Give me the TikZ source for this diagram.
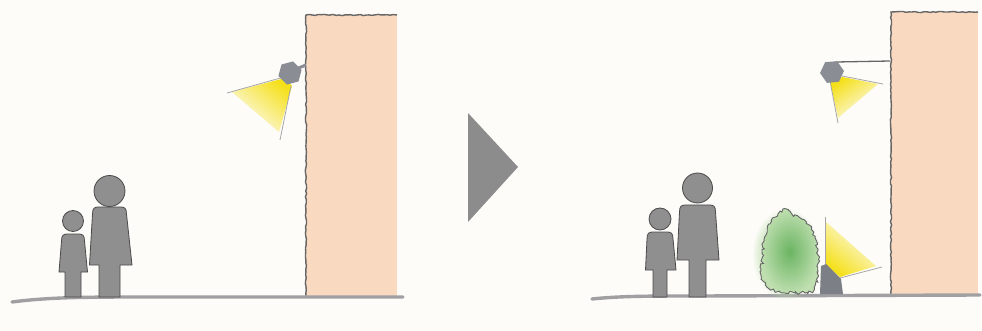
\documentclass[tikz,border=0pt]{standalone}
\usetikzlibrary{decorations.pathmorphing,fadings,shapes.geometric}

\definecolor{bg}{HTML}{FDFCF9}
\definecolor{wallfill}{HTML}{F9D9C0}
\definecolor{edge}{HTML}{666666}
\definecolor{figgray}{HTML}{8F8F8F}
\definecolor{figline}{HTML}{4A4A4A}
\definecolor{groundgray}{HTML}{A0A0A3}
\definecolor{lampbody}{HTML}{8A8D94}
\definecolor{beam}{HTML}{F5E01A}
\definecolor{leaf}{HTML}{6BB462}
\definecolor{leafpale}{HTML}{BFDFB0}
\definecolor{arrowgray}{HTML}{8C8C8C}

\tikzfading[name=sidefade, left color=transparent!100, middle color=transparent!0, right color=transparent!100]

\tikzset{
  figure/.style={fill=figgray, draw=figline, line width=0.8pt, line join=round},
  sketch/.style={draw=edge, line width=1.4pt, decorate,
    decoration={random steps, segment length=3pt, amplitude=0.6pt}},
  groundline/.style={draw=groundgray, line width=3.4pt, line cap=round},
  beamline/.style={draw=gray!70, line width=0.8pt},
  beamfill/.style={top color=beam, middle color=beam!40!bg, bottom color=bg},
  lamphead/.style={regular polygon, regular polygon sides=6, minimum size=24pt,
    inner sep=0pt, fill=lampbody},
  shadowband/.style={top color=black!19, bottom color=bg, path fading=sidefade},
}

% one standing figure: feet centre at the scope origin
% #1 head height, #2 head radius, #3 shoulder height, #4 shoulder half width,
% #5 hem height, #6 hem left, #7 hem right, #8 leg half width
\newcommand\drawperson[8]{%
  \path[figure] (-#8,0) -- (-#8,-#5) -- (-#6,-#5) -- (-#4,-#3+7)
    .. controls (-#4,-#3+1) and (-#4+2,-#3) .. (-#4+6,-#3)
    -- (#4-6,-#3) .. controls (#4-2,-#3) and (#4,-#3+1) .. (#4,-#3+7)
    -- (#7,-#5) -- (#8,-#5) -- (#8,0) -- cycle;
  \path[figure] (0,-#1) circle (#2);
}

\begin{document}
\begin{tikzpicture}[x=1pt, y=-1pt]
\pgfmathsetseed{7}
\useasboundingbox (0,0) rectangle (982,331);
\fill[bg] (0,0) rectangle (982,331);

% ---------------- left scene ----------------
\shade[shadowband] (8,299) rectangle (412,331);
\fill[wallfill] (306,15) rectangle (397,296);
\draw[sketch] (306,296) -- (306,15) -- (397,15);
\draw[groundline] (12,302) .. controls (50,297) and (90,297) .. (150,297) -- (403,297);

% wall lamp
\draw[lampbody, line width=3pt] (296,69) -- (306,65);
\shade[beamfill, shading angle=-40]
  (285,78) -- (232,92) -- (279,132) -- (292,86) -- cycle;
\draw[beamline] (284,77) -- (227,93);
\draw[beamline] (291,86) -- (280,140);
\node[lamphead, rotate=15] (lampL) at (290,73) {};

% people
\begin{scope}[shift={(109.5,297)}]
  \drawperson{106}{15.5}{90}{17}{32}{20}{22.5}{10.5}
\end{scope}
\begin{scope}[shift={(73,297)}]
  \drawperson{76}{10.5}{63}{11.5}{25}{14}{14.5}{8}
\end{scope}

% ---------------- arrow ----------------
\fill[arrowgray] (468,113) -- (518,167) -- (468,222) -- cycle;

% ---------------- right scene ----------------
\shade[shadowband] (588,298) rectangle (982,331);
\fill[wallfill] (891,12) rectangle (978,294);
\draw[sketch] (891,294) -- (891,12) -- (978,12);
\draw[groundline] (592,299) .. controls (620,296) and (650,296) .. (700,296) -- (980,295);

% upper wall lamp
\draw[edge, line width=1.3pt] (836,62) -- (890,61);
\shade[beamfill, shading angle=35]
  (830,82) -- (838,118) -- (878,84) -- (842,77) -- cycle;
\draw[beamline] (830,81) -- (838,123);
\draw[beamline] (842,76) -- (883,84);
\node[lamphead, rotate=5] (lampR) at (832,72) {};

% shrub with soft glow
\fill[leafpale, opacity=0.5, path fading=circle with fuzzy edge 20 percent] (786,254) ellipse (34 and 46);
\pgfmathsetseed{11}
\path[draw=edge, line width=0.9pt, inner color=leaf, outer color=leafpale, decorate,
  decoration={random steps, segment length=2pt, amplitude=1.6pt}]
  plot[smooth cycle] coordinates {(762,262) (764,240) (770,224) (778,214) (785,209)
    (792,214) (800,218) (809,225) (815,238) (818,255) (818,275) (814,290)
    (800,293) (780,292) (767,287) (761,275)};

% ground uplight
\shade[beamfill, shading angle=140]
  (826,222) -- (826,265) -- (840,277) -- (876,266) -- cycle;
\draw[beamline] (825,217) -- (825,264);
\draw[beamline] (840,278) -- (882,267);
\fill[lampbody!90!black] (820,294) -- (821,266) -- (826,264) -- (841,279) -- (843,294) -- cycle;

% people
\begin{scope}[shift={(697.5,297)}]
  \drawperson{109}{15}{92}{18}{37}{20.5}{21.5}{8.5}
\end{scope}
\begin{scope}[shift={(660,297)}]
  \drawperson{78}{11}{65}{13}{27}{14.5}{16}{7}
\end{scope}
\end{tikzpicture}
\end{document}
